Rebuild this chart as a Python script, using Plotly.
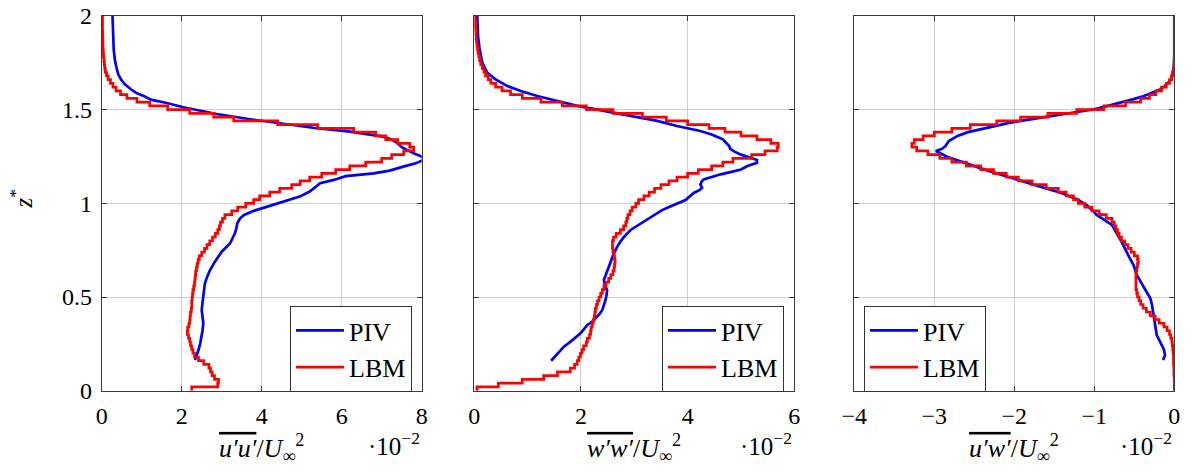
import plotly.graph_objects as go

# ---------------- data (values in units of 1e-2) ----------------
z_lbm = [0.00, 0.02, 0.04, 0.06, 0.08, 0.10, 0.12, 0.14, 0.16, 0.18,
         0.20, 0.22, 0.24, 0.26, 0.28, 0.30, 0.32, 0.34, 0.36, 0.38,
         0.40, 0.42, 0.44, 0.46, 0.48, 0.50, 0.52, 0.54, 0.56, 0.58,
         0.60, 0.62, 0.64, 0.66, 0.68, 0.70, 0.72, 0.74, 0.76, 0.78,
         0.80, 0.82, 0.84, 0.86, 0.88, 0.90, 0.92, 0.94, 0.96, 0.98,
         1.00, 1.02, 1.04, 1.06, 1.08, 1.10, 1.12, 1.14, 1.16, 1.18,
         1.20, 1.22, 1.24, 1.26, 1.28, 1.30, 1.32, 1.34, 1.36, 1.38,
         1.40, 1.42, 1.44, 1.46, 1.48, 1.50, 1.52, 1.54, 1.56, 1.58,
         1.60, 1.62, 1.64, 1.66, 1.68, 1.70, 1.72, 1.74, 1.76, 1.78,
         1.80, 1.82, 1.84, 1.86, 1.88, 1.90, 1.92, 1.94, 1.96, 1.98,
         2.00]

uu_lbm = [2.25, 2.9, 2.92, 2.82, 2.76, 2.72, 2.68, 2.55, 2.42, 2.32,
          2.28, 2.25, 2.22, 2.2, 2.17, 2.14, 2.15, 2.18, 2.2, 2.21,
          2.22, 2.24, 2.25, 2.25, 2.26, 2.27, 2.28, 2.3, 2.32, 2.33,
          2.34, 2.35, 2.37, 2.39, 2.41, 2.44, 2.5, 2.57, 2.63, 2.7,
          2.77, 2.84, 2.9, 2.94, 2.97, 3.02, 3.08, 3.25, 3.4, 3.6,
          3.8, 3.95, 4.2, 4.45, 4.75, 4.96, 5.2, 5.5, 5.85, 6.2,
          6.6, 7.0, 7.25, 7.55, 7.8, 7.7, 7.4, 7.1, 6.85, 6.3,
          5.4, 4.4, 3.3, 2.8, 2.2, 1.65, 1.2, 0.88, 0.63, 0.47,
          0.36, 0.28, 0.22, 0.16, 0.12, 0.09, 0.075, 0.065, 0.055, 0.045,
          0.04, 0.035, 0.03, 0.03, 0.025, 0.025, 0.02, 0.02, 0.02, 0.02,
          0.02]

ww_lbm = [0.05, 0.45, 0.9, 1.3, 1.56, 1.8, 1.88, 1.93, 1.96, 1.99,
          2.02, 2.05, 2.1, 2.12, 2.16, 2.18, 2.19, 2.21, 2.23, 2.25,
          2.26, 2.27, 2.29, 2.31, 2.34, 2.37, 2.4, 2.43, 2.47, 2.52,
          2.56, 2.6, 2.62, 2.63, 2.64, 2.63, 2.62, 2.6, 2.59, 2.59,
          2.61, 2.66, 2.74, 2.8, 2.84, 2.86, 2.88, 2.92, 2.96, 3.03,
          3.08, 3.18, 3.28, 3.38, 3.5, 3.65, 3.8, 4.0, 4.2, 4.45,
          4.66, 4.85, 5.2, 5.45, 5.68, 5.7, 5.56, 5.3, 5.0, 4.7,
          4.4, 4.0, 3.6, 3.15, 2.6, 2.1, 1.65, 1.25, 0.9, 0.68,
          0.52, 0.4, 0.31, 0.26, 0.21, 0.18, 0.15, 0.12, 0.1, 0.085,
          0.07, 0.06, 0.05, 0.04, 0.035, 0.03, 0.025, 0.02, 0.02, 0.015,
          0.01]

uw_lbm = [0.0, 0.0, 0.0, 0.0, -0.005, -0.005, -0.005, -0.01, -0.01, -0.01,
          -0.015, -0.02, -0.025, -0.03, -0.045, -0.06, -0.09, -0.13, -0.19, -0.24,
          -0.3, -0.35, -0.39, -0.42, -0.44, -0.46, -0.47, -0.48, -0.48, -0.48,
          -0.48, -0.48, -0.47, -0.46, -0.45, -0.46, -0.5, -0.54, -0.58, -0.62,
          -0.66, -0.69, -0.71, -0.73, -0.75, -0.78, -0.85, -0.94, -1.03, -1.12,
          -1.2, -1.26, -1.35, -1.45, -1.6, -1.78, -1.95, -2.1, -2.26, -2.42,
          -2.6, -2.78, -2.93, -3.08, -3.22, -3.28, -3.25, -3.14, -3.0, -2.78,
          -2.55, -2.22, -1.92, -1.58, -1.22, -0.88, -0.61, -0.42, -0.31, -0.23,
          -0.16, -0.1, -0.06, -0.035, -0.02, -0.01, -0.005, 0.0, 0.0, 0.0,
          0.0, 0.0, 0.0, 0.0, 0.0, 0.0, 0.0, 0.0, 0.0, 0.0,
          0.0]

z_piv_uu = [0.164, 0.19, 0.217, 0.25, 0.288, 0.32, 0.36, 0.395, 0.431, 0.47,
            0.502, 0.54, 0.573, 0.61, 0.644, 0.689, 0.742, 0.787, 0.84, 0.87,
            0.894, 0.92, 0.938, 0.96, 0.982, 1.009, 1.036, 1.063, 1.09, 1.107,
            1.125, 1.145, 1.16, 1.175, 1.196, 1.214, 1.232, 1.25, 1.267, 1.285,
            1.30, 1.321, 1.34, 1.356, 1.37, 1.383, 1.401, 1.424, 1.449, 1.477,
            1.513, 1.537, 1.552, 1.573, 1.587, 1.609, 1.635, 1.662, 1.69, 1.733,
            1.765, 1.82, 1.9, 2.0]
uu_piv = [2.33, 2.38, 2.42, 2.46, 2.5, 2.52, 2.54, 2.52, 2.5, 2.52,
          2.54, 2.56, 2.58, 2.64, 2.71, 2.83, 3.0, 3.21, 3.33, 3.37,
          3.39, 3.46, 3.56, 3.8, 4.12, 4.55, 4.95, 5.2, 5.35, 5.46,
          5.8, 6.1, 6.8, 7.2, 7.54, 7.85, 8.05, 8.0, 7.8, 7.62,
          7.5, 7.4, 7.25, 7.04, 6.6, 6.21, 5.375, 4.54, 3.71, 2.875,
          2.04, 1.6, 1.25, 1.05, 0.88, 0.73, 0.58, 0.48, 0.41, 0.36,
          0.33, 0.3, 0.28, 0.27]

z_piv_ww = [0.16, 0.199, 0.235, 0.27, 0.306, 0.33, 0.351, 0.37, 0.386, 0.41,
            0.431, 0.46, 0.484, 0.51, 0.537, 0.56, 0.591, 0.63, 0.662, 0.69,
            0.715, 0.74, 0.769, 0.8, 0.822, 0.858, 0.88, 0.902, 0.941, 0.964,
            0.977, 1.0, 1.018, 1.04, 1.057, 1.07, 1.084, 1.101, 1.115, 1.128,
            1.142, 1.155, 1.168, 1.181, 1.199, 1.217, 1.232, 1.245, 1.26, 1.276,
            1.29, 1.306, 1.325, 1.342, 1.355, 1.368, 1.386, 1.413, 1.44, 1.466,
            1.493, 1.52, 1.546, 1.573, 1.6, 1.626, 1.662, 1.698, 1.751, 1.822,
            1.893, 2.0]
ww_piv = [1.44, 1.56, 1.68, 1.84, 1.99, 2.06, 2.12, 2.22, 2.28, 2.35,
          2.4, 2.44, 2.46, 2.48, 2.49, 2.45, 2.43, 2.48, 2.53, 2.56,
          2.59, 2.63, 2.68, 2.75, 2.81, 2.93, 3.05, 3.18, 3.37, 3.52,
          3.62, 3.8, 3.96, 4.05, 4.12, 4.22, 4.27, 4.24, 4.26, 4.3,
          4.45, 4.62, 4.82, 5.0, 5.12, 5.3, 5.3, 5.15, 5.0, 4.88,
          4.8, 4.78, 4.72, 4.66, 4.55, 4.45, 4.24, 3.8, 3.43, 2.93,
          2.43, 1.93, 1.56, 1.18, 0.87, 0.62, 0.4, 0.24, 0.15, 0.1,
          0.07, 0.056]

z_piv_uw = [0.164, 0.19, 0.22, 0.244, 0.27, 0.297, 0.325, 0.351, 0.39, 0.422,
            0.46, 0.493, 0.53, 0.564, 0.59, 0.618, 0.645, 0.671, 0.71, 0.742,
            0.77, 0.796, 0.84, 0.885, 0.911, 0.938, 0.965, 0.991, 1.021, 1.045,
            1.057, 1.075, 1.093, 1.11, 1.128, 1.146, 1.164, 1.18, 1.199, 1.217,
            1.235, 1.25, 1.262, 1.279, 1.292, 1.306, 1.333, 1.36, 1.38, 1.395,
            1.413, 1.431, 1.448, 1.466, 1.484, 1.502, 1.52, 1.537, 1.555, 1.573,
            1.59, 1.609, 1.625, 1.644, 1.66, 1.676, 1.7, 1.73, 1.8, 2.0]
uw_piv = [-0.14, -0.116, -0.13, -0.16, -0.19, -0.22, -0.23, -0.24, -0.25, -0.26,
          -0.28, -0.3, -0.35, -0.39, -0.43, -0.47, -0.49, -0.51, -0.56, -0.595,
          -0.63, -0.66, -0.72, -0.78, -0.87, -0.97, -1.03, -1.095, -1.21, -1.35,
          -1.42, -1.57, -1.71, -1.86, -2.0, -2.12, -2.25, -2.37, -2.5, -2.63,
          -2.75, -2.85, -2.9, -2.98, -2.9, -2.86, -2.82, -2.71, -2.58, -2.42,
          -2.25, -2.05, -1.8, -1.55, -1.27, -1.0, -0.83, -0.67, -0.52, -0.38,
          -0.27, -0.17, -0.12, -0.07, -0.04, -0.03, -0.015, -0.005, 0.0, 0.0]

x_ranges = [[0, 8], [0, 6], [-4, 0]]
x_titles = ["u′u′", "w′w′", "u′w′"]
y_ticks = [0, 0.5, 1, 1.5, 2]
y_ticktext = ["0", "0.5", "1", "1.5", "2"]

# ---------------- figure ----------------
W, H = 1197, 473
FONT = "Liberation Serif"
BLUE = "rgb(0,0,255)"
RED = "rgb(255,0,0)"

px_left = [101.7, 474.3, 854.3]
px_w = 320.0
top_px, bot_px = 16.0, 390.7

fig = go.Figure()

panels = [
    (z_piv_uu, uu_piv, uu_lbm),
    (z_piv_ww, ww_piv, ww_lbm),
    (z_piv_uw, uw_piv, uw_lbm),
]
legend_names = ["legend", "legend2", "legend3"]
for i, (zp, piv, lbm) in enumerate(panels):
    xa = "x" if i == 0 else f"x{i+1}"
    ya = "y" if i == 0 else f"y{i+1}"
    fig.add_trace(go.Scatter(x=piv, y=zp, mode="lines", name="PIV",
                             line=dict(color=BLUE, width=2.7),
                             xaxis=xa, yaxis=ya, legend=legend_names[i]))
    fig.add_trace(go.Scatter(x=lbm, y=z_lbm, mode="lines", name="LBM",
                             line=dict(color=RED, width=2.7, shape="vh"),
                             xaxis=xa, yaxis=ya, legend=legend_names[i]))

layout = dict(
    width=W, height=H,
    margin=dict(l=0, r=0, t=0, b=0, autoexpand=False),
    paper_bgcolor="white", plot_bgcolor="white",
    font=dict(family=FONT, size=24, color="black"),
    showlegend=True,
)

ydom = [(H - bot_px) / H, (H - top_px) / H]
axis_common = dict(
    showline=True, linecolor="#3a3a3a", linewidth=1, mirror="ticks",
    ticks="inside", ticklen=5, tickcolor="#3a3a3a", tickwidth=1,
    showgrid=True, gridcolor="#cfcfcf", gridwidth=1,
    zeroline=False, automargin=False,
    tickfont=dict(family=FONT, size=24, color="black"),
)
for i in range(3):
    sx = "" if i == 0 else str(i + 1)
    layout[f"xaxis{sx}"] = dict(
        axis_common,
        domain=[px_left[i] / W, (px_left[i] + px_w) / W],
        range=x_ranges[i], dtick=1 if i == 2 else 2, anchor=f"y{sx}",
        ticklabelstandoff=3,
    )
    layout[f"yaxis{sx}"] = dict(
        axis_common,
        domain=ydom, range=[0, 2], tickvals=y_ticks,
        ticktext=y_ticktext,
        showticklabels=(i == 0), anchor=f"x{sx}",
        ticklabelstandoff=4,
    )

legend_pos = [(412, "right"), (784, "right"), (864, "left")]
for i, ln in enumerate(legend_names):
    layout[ln] = dict(
        x=legend_pos[i][0] / W, y=(H - 306) / H,
        xanchor=legend_pos[i][1], yanchor="top",
        bgcolor="white", bordercolor="#333", borderwidth=1,
        font=dict(family=FONT, size=26, color="black"),
        tracegroupgap=0, itemwidth=48,
    )

fig.update_layout(**layout)

for i in range(3):
    sx = "" if i == 0 else str(i + 1)
    fig.add_annotation(
        xref=f"x{sx} domain", yref="paper", x=0.5, y=(H - 448) / H,
        xanchor="center", yanchor="middle", showarrow=False,
        text=(f"<span style='text-decoration:overline'><i>{x_titles[i]}</i></span>"
              f"/<i>U</i><sub>∞</sub><sup>2</sup>"),
        font=dict(family=FONT, size=26, color="black"),
    )
    fig.add_annotation(
        xref=f"x{sx} domain", yref="paper", x=1.0, y=(H - 444) / H,
        xanchor="right", yanchor="middle", showarrow=False,
        text="·10<sup>−2</sup>",
        font=dict(family=FONT, size=25, color="black"),
    )

fig.add_annotation(
    xref="paper", yref="y domain", x=21 / W, y=0.51,
    xanchor="center", yanchor="middle", showarrow=False, textangle=-90,
    text="<i>z</i><sup>*</sup>",
    font=dict(family=FONT, size=25, color="black"),
)

fig.write_html("out.html")
